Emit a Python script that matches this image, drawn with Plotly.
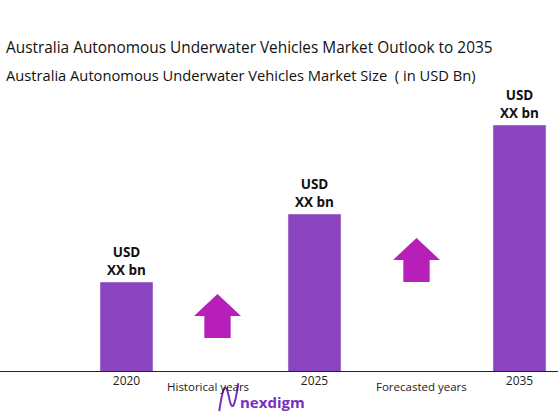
import plotly.graph_objects as go

categories = ["2020", "2025", "2035"]
values = [90, 158, 247]
bar_labels = ["USD<br>XX bn", "USD<br>XX bn", "USD<br>XX bn"]
x_pos = [126.5, 314.5, 519.5]

FONT = "Open Sans"
fig = go.Figure()
fig.add_bar(x=x_pos, y=values, width=53, marker_color="#8A44BE",
            text=bar_labels, textposition="outside",
            textfont=dict(family=FONT, size=13.5, color="#111"),
            cliponaxis=False, hoverinfo="skip")
fig.update_traces(texttemplate="<b>%{text}</b>")

def arrow(x0, x1, ytop, ybase, ybot):
    cx = (x0 + x1) / 2
    sw = (x1 - x0) * 0.28
    return (f"M {x0},{ybase} L {cx},{ytop} L {x1},{ybase} L {cx+sw},{ybase} "
            f"L {cx+sw},{ybot} L {cx-sw},{ybot} L {cx-sw},{ybase} Z")

shapes = [
    dict(type="path", xref="x", yref="y", path=arrow(194, 241, 78, 56, 34),
         fillcolor="#B620B8", line=dict(width=0)),
    dict(type="path", xref="x", yref="y", path=arrow(393, 440, 134, 112, 90),
         fillcolor="#B620B8", line=dict(width=0)),
    dict(type="line", xref="paper", yref="y", x0=0, x1=1, y0=0, y1=0,
         line=dict(color="#222", width=2)),
    dict(type="path", xref="paper", yref="paper",
         path="M 0.393,-0.105 C 0.40,-0.03 0.405,-0.03 0.41,-0.065 C 0.415,-0.105 0.42,-0.105 0.427,-0.03",
         line=dict(color="#7B2FBE", width=2)),
]

fig.update_layout(
    width=558, height=417, margin=dict(l=0, r=0, t=0, b=45),
    plot_bgcolor="white", paper_bgcolor="white", showlegend=False,
    shapes=shapes,
    xaxis=dict(range=[0, 558], tickvals=x_pos, ticktext=categories, showgrid=False,
               zeroline=False, ticks="", tickfont=dict(family=FONT, size=12, color="#222")),
    yaxis=dict(range=[0, 372], visible=False),
    annotations=[
        dict(text="Australia Autonomous Underwater Vehicles Market Outlook to 2035",
             xref="paper", yref="paper", x=0.008, y=(372 - 47) / 372,
             xanchor="left", yanchor="middle", showarrow=False,
             font=dict(family=FONT, size=15.4, color="#111")),
        dict(text="Australia Autonomous Underwater Vehicles Market Size  ( in USD Bn)",
             xref="paper", yref="paper", x=0.008, y=(372 - 75) / 372,
             xanchor="left", yanchor="middle", showarrow=False,
             font=dict(family=FONT, size=14.7, color="#111")),
        dict(text="Historical years", xref="x", yref="paper", x=208, y=-14 / 372,
             yanchor="middle", showarrow=False,
             font=dict(family=FONT, size=11.5, color="#222")),
        dict(text="Forecasted years", xref="x", yref="paper", x=421, y=-14 / 372,
             yanchor="middle", showarrow=False,
             font=dict(family=FONT, size=11.5, color="#222")),
        dict(text="<b>nexdigm</b>", xref="x", yref="paper", x=272, y=-30 / 372,
             yanchor="middle", showarrow=False,
             font=dict(family=FONT, size=15, color="#7B2FBE")),
    ],
)
fig.write_html("out.html", config={"displayModeBar": False},
               post_script="document.body.style.margin='0';")
